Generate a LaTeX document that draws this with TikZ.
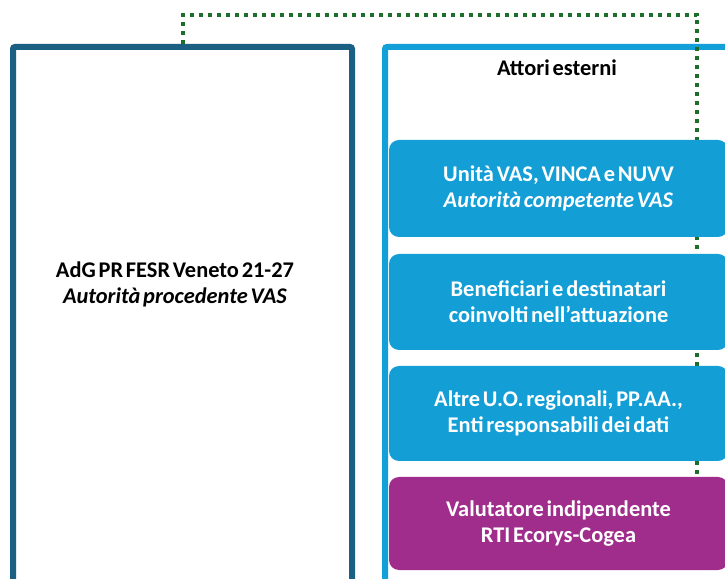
\documentclass[tikz,border=0pt]{standalone}
\usepackage{fontspec}
\setmainfont[WordSpace={0.55,0,0}]{Carlito}
\definecolor{darkblue}{HTML}{1B5F82}
\definecolor{lightblue}{HTML}{139FD7}
\definecolor{boxblue}{HTML}{149ED6}
\definecolor{purplebox}{HTML}{A02D8C}
\definecolor{dotgreen}{HTML}{1D6E2B}
\tikzset{
  frame/.style={draw, line width=6pt, rounded corners=2pt, fill=white, inner sep=0pt},
  actor/.style={fill=boxblue, rounded corners=10pt, minimum width=339pt, align=center, text=white, font=\fontsize{22.4}{26}\selectfont\bfseries, inner sep=0pt},
  txt/.style={font=\fontsize{22.4}{26}\selectfont\bfseries, align=center},
  link/.style={draw=dotgreen, line width=4pt, dash pattern=on 4pt off 5pt}
}
\begin{document}
\begin{tikzpicture}[x=1pt,y=1pt]
\useasboundingbox (0,0) rectangle (725,578);
\fill[white] (0,0) rectangle (725,578);
\clip (0,0) rectangle (725,578);
% frames
\node[frame, draw=darkblue, minimum width=339pt, minimum height=560pt, anchor=north] (left) at (182.5,534) {};
\node[frame, draw=lightblue, minimum width=400pt, minimum height=560pt, anchor=north west] (right) at (382,534) {};
\node[txt] (adg) at (175,294) {AdG PR FESR Veneto 21-27\\\textit{Autorità procedente VAS}};
\node[txt] (title) at (557,510) {Attori esterni};
% connector
\coordinate (turn) at (697,563);
\draw[link] (left.north) |- (turn) -- (697,101);
% actor boxes
\node[actor, minimum height=97pt] (vas) at (558.5,389.5) {Unità VAS, VINCA e NUVV\\\textit{Autorità competente VAS}};
\node[actor, minimum height=96pt] (ben) at (558.5,276) {Beneficiari e destinatari\\coinvolti nell’attuazione};
\node[actor, minimum height=95pt] (altre) at (558.5,164.5) {Altre U.O. regionali, PP.AA.,\\Enti responsabili dei dati};
\node[actor, fill=purplebox, minimum height=93pt] (val) at (558.5,54.5) {Valutatore indipendente\\RTI Ecorys-Cogea};
\end{tikzpicture}
\end{document}
